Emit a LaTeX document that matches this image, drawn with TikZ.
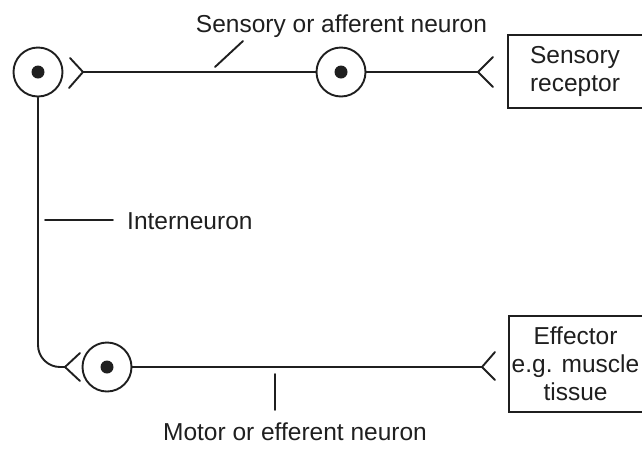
\documentclass[tikz,border=0pt]{standalone}
\usepackage{fontspec}
\setmainfont{Liberation Sans}
\begin{document}
\begin{tikzpicture}[x=1pt,y=-1pt,
  ink/.style={line width=1.9pt, draw=black!88},
  soma/.style={ink, circle, minimum size=49pt, inner sep=0pt,
    path picture={\fill[black!88] (path picture bounding box.center) circle (6.5pt);}},
  organ/.style={ink, rectangle, minimum width=160pt, inner sep=0pt},
  organtext/.style={inner sep=0pt, align=center, text=black!88,
    font=\fontsize{24.5}{28}\selectfont},
  label/.style={inner sep=0pt, text=black!88, font=\fontsize{24.5}{28}\selectfont},
  nerve/.style={ink, line cap=round, line join=round}
]
\useasboundingbox (0,0) rectangle (642,448);

% cell bodies
\node[soma] (s1) at (38,72) {};
\node[soma] (s2) at (341,72) {};
\node[soma] (s3) at (107,367) {};

% receptor and effector (the frames run on past the right margin)
\node[organ, minimum height=73pt] (rec) at (588,71.5) {};
\node[organtext] (rectext) at (575,71.5) {Sensory\\receptor};
\node[organ, minimum height=96pt] (eff) at (589,364) {};
\node[organtext] (efftext) at (575.5,364) {Effector\\e.g. muscle\\tissue};

% synaptic endings
\coordinate (t1) at (83,72);
\coordinate (t2) at (478,72);
\coordinate (t3) at (65,367);
\coordinate (t4) at (482,367);

% sensory neuron
\draw[nerve] ([shift={(-13,-14)}]t1) -- (t1) -- ([shift={(-14,16)}]t1);
\draw[nerve] (t1) -- (s2.west);
\draw[nerve] (s2.east) -- (t2);
\draw[nerve] ([shift={(15,-15)}]t2) -- (t2) -- ([shift={(15,15)}]t2);

% interneuron
\draw[nerve, rounded corners=22pt] (s1.south) |- (t3);
\draw[nerve] ([shift={(15,-14)}]t3) -- (t3) -- ([shift={(15,14)}]t3);

% motor neuron
\draw[nerve] (s3.east) -- (t4);
\draw[nerve] ([shift={(13,-15)}]t4) -- (t4) -- ([shift={(13,13)}]t4);

% labels and leaders
\node[label, anchor=base] (lsens) at (341.5,32) {Sensory or afferent neuron};
\coordinate (p1) at (215,67);
\coordinate (p2) at (243,41);
\draw[nerve] (p1) -- (p2);

\node[label, anchor=base west] (linter) at (127,229) {Interneuron};
\coordinate (q1) at (45,220);
\coordinate (q2) at (113,220);
\draw[nerve] (q1) -- (q2);

\node[label, anchor=base] (lmotor) at (295,440) {Motor or efferent neuron};
\coordinate (r1) at (275,374);
\coordinate (r2) at (275,410);
\draw[nerve] (r1) -- (r2);
\end{tikzpicture}
\end{document}
